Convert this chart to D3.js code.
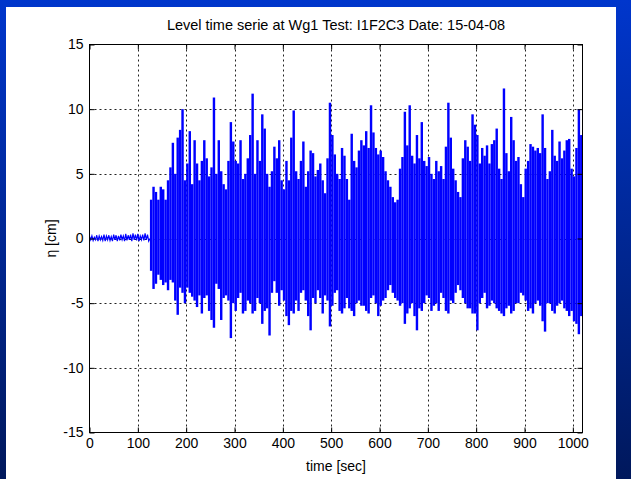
<!DOCTYPE html>
<html>
<head lang="en">
    <meta charset="UTF-8">
    <script src="https://cdn.jsdelivr.net/npm/d3@7/dist/d3.min.js" charset="utf-8"></script>
    <style>
        body { margin: 0; }
        text { font-family: "Liberation Sans", Arial, sans-serif; fill: #000; }
    </style>
    <title></title>
</head>
<body>
<svg id="chart" width="631" height="479"></svg>

<script>
    // tick labels
    var xTicks = [0, 100, 200, 300, 400, 500, 600, 700, 800, 900, 1000];
    var yTicks = [-15, -10, -5, 0, 5, 10, 15];

    // sampling grid (sec)
    var step = 5;
    var quietStart = 0;
    var burstStart = 125;
    var tEnd = 1020;

    // calm water before the waves arrive (0 - 120 s), crest / trough per 5 s
    var quietHi = [0.15, 0.2, 0.1, 0.25, 0.2, 0.15, 0.3, 0.2, 0.25, 0.15, 0.3, 0.25, 0.2,
                   0.3, 0.2, 0.35, 0.25, 0.3, 0.4, 0.3, 0.35, 0.2, 0.3, 0.4, 0.3];
    var quietLo = [-0.1, -0.15, -0.1, -0.2, -0.1, -0.15, -0.2, -0.1, -0.15, -0.2, -0.1, -0.2, -0.15,
                   -0.1, -0.2, -0.15, -0.1, -0.2, -0.1, -0.15, -0.2, -0.1, -0.15, -0.1, -0.2];

    // irregular waves (125 - 1020 s), highest crest / lowest trough per 5 s
    var burstHi = [
        3.0, 4.0, 3.6, 3.0, 4.0, 3.8, 3.0, 4.5, 5.5, 7.4,
        5.0, 7.8, 8.4, 10.0, 4.5, 5.8, 8.3, 4.2, 7.6, 5.8,
        4.5, 6.0, 7.6, 6.2, 4.8, 5.5, 10.9, 5.0, 7.6, 5.2,
        4.2, 3.8, 6.0, 9.0, 7.5, 6.0, 5.8, 7.6, 4.6, 5.0,
        6.2, 8.0,
        11.2, 5.0, 7.6, 6.0, 9.6, 8.5, 5.0, 4.0, 5.2, 7.1,
        6.2, 7.6, 4.5, 3.8, 6.0, 4.5, 7.8, 9.9, 5.2, 4.6,
        6.0, 7.5, 4.0, 5.2, 6.8, 6.6, 4.8, 5.3, 5.8, 4.5,
        3.5, 6.2, 10.5, 8.0, 6.5, 5.0, 4.6, 7.0, 6.4, 4.6,
        3.0, 8.1, 6.0, 5.5, 6.8, 7.6,
        7.2, 8.3, 7.0, 10.3, 8.2, 7.0, 6.5, 6.8, 6.3, 5.2,
        4.5, 4.0, 3.2, 2.8, 3.0, 5.4, 6.3, 9.8, 7.2, 10.3,
        6.4, 5.8, 8.0, 6.2, 9.0, 6.0, 5.6, 6.3, 5.0, 4.6,
        6.0, 5.2, 5.6, 4.6, 7.1, 10.5, 7.8, 5.4, 4.5, 3.6,
        3.2, 6.2, 7.6, 7.1, 6.0, 9.6,
        8.8, 8.0, 5.8, 7.0, 6.4, 7.2, 5.8, 7.3, 7.6, 8.5,
        5.4, 4.6, 11.6, 6.6, 5.2, 9.4, 7.6, 6.0, 6.3, 4.2,
        3.2, 5.4, 6.0, 7.3, 7.1, 6.8, 7.0, 6.6, 9.6, 7.0,
        4.6, 5.2, 8.4, 6.4, 6.0, 7.5, 6.2, 6.8, 7.6, 7.7,
        5.4, 4.8, 7.0, 10.0, 8.0
    ];
    var burstLo = [
        -2.5, -3.9, -3.5, -2.8, -3.2, -3.6, -3.4, -4.0, -3.2, -3.4,
        -4.8, -5.9, -3.8, -4.2, -5.0, -3.8, -4.2, -4.5, -4.8, -5.3,
        -4.4, -5.8, -4.6, -4.4, -5.6, -6.3, -6.9, -3.5, -3.9, -6.3,
        -4.6, -4.4, -4.8, -7.7, -5.0, -5.6, -4.6, -4.2, -5.8, -5.6,
        -4.8, -5.0,
        -5.8, -5.6, -4.6, -5.0, -6.6, -5.6, -5.4, -7.5, -4.2, -3.3,
        -4.2, -5.2, -4.0, -4.8, -6.0, -6.7, -5.6, -5.8, -4.8, -5.6,
        -4.2, -4.0, -4.8, -6.0, -7.1, -4.6, -5.0, -4.0, -4.6, -5.8,
        -4.4, -4.8, -6.8, -5.2, -4.2, -4.0, -5.6, -5.8, -5.4, -4.6,
        -5.4, -5.6, -6.0, -5.0, -4.8, -5.2,
        -5.2, -5.6, -5.8, -4.6, -4.4, -5.0, -6.0, -5.2, -4.8, -4.6,
        -4.0, -3.6, -4.2, -4.6, -4.8, -5.2, -5.0, -6.6, -5.8, -5.4,
        -5.0, -6.0, -7.1, -5.4, -5.6, -5.0, -4.4, -4.6, -5.6, -5.2,
        -5.0, -5.6, -4.2, -4.6, -5.6, -5.8, -4.8, -5.0, -4.2, -3.6,
        -4.0, -4.6, -5.0, -5.4, -5.4, -5.8,
        -5.8, -7.1, -5.0, -4.6, -4.2, -5.4, -5.2, -4.8, -5.0, -5.4,
        -5.6, -5.8, -6.0, -5.4, -5.2, -5.8, -5.6, -5.0, -5.0, -4.2,
        -4.4, -4.8, -5.6, -5.4, -5.8, -5.0, -4.8, -5.2, -6.4, -7.2,
        -5.0, -5.0, -5.6, -5.8, -5.2, -5.0, -4.8, -5.4, -5.6, -6.0,
        -5.6, -6.4, -6.6, -7.4, -6.0
    ];

    var svg = d3.select("#chart");
    var W = 631, H = 479;
    var plot = {left: 89.5, right: 582.5, top: 44.5, bottom: 432.5};
    var font = "'Liberation Sans', Arial, sans-serif";
    var blue = "#0000ff";

    // blue slide background + white figure
    var defs = svg.append("defs");
    var grad = defs.append("linearGradient").attr("id", "bg")
            .attr("x1", 0).attr("y1", 0).attr("x2", 0).attr("y2", 1);
    grad.append("stop").attr("offset", "0%").attr("stop-color", "#0036cc");
    grad.append("stop").attr("offset", "100%").attr("stop-color", "#00185c");
    svg.append("rect").attr("width", W).attr("height", H).attr("fill", "url(#bg)");
    svg.append("rect").attr("x", 6).attr("y", 7).attr("width", 610).attr("height", H - 7).attr("fill", "#fff");

    var x = d3.scaleLinear().domain([0, tEnd]).range([plot.left, plot.right]);
    var y = d3.scaleLinear().domain([-15, 15]).range([plot.bottom, plot.top]);

    // grid
    var grid = svg.append("g").attr("stroke", "#222").attr("stroke-dasharray", "2,3").attr("stroke-width", 1);
    grid.selectAll(".gx").data(xTicks.slice(1)).enter().append("line")
            .attr("x1", function(d) { return Math.round(x(d)) + 0.5; })
            .attr("x2", function(d) { return Math.round(x(d)) + 0.5; })
            .attr("y1", plot.top).attr("y2", plot.bottom);
    grid.selectAll(".gy").data(yTicks.slice(1, -1)).enter().append("line")
            .attr("y1", function(d) { return Math.round(y(d)) + 0.5; })
            .attr("y2", function(d) { return Math.round(y(d)) + 0.5; })
            .attr("x1", plot.left).attr("x2", plot.right);

    // calm part: crest / trough zigzag
    var pts = [];
    quietHi.forEach(function(h, i) {
        var t = quietStart + i * step;
        pts.push([t, h]);
        pts.push([t + step / 2, quietLo[i]]);
    });
    pts.push([burstStart, 0]);

    var line = d3.line()
            .x(function(d) { return x(d[0]); })
            .y(function(d) { return y(d[1]); });

    svg.append("path").datum(pts)
            .attr("d", line)
            .attr("fill", "none")
            .attr("stroke", blue)
            .attr("stroke-width", 1.2);

    // wave part: each 5 s window filled from trough to crest
    var bins = burstHi.map(function(h, i) {
        return {t: burstStart + i * step, hi: h, lo: burstLo[i]};
    });
    svg.append("g").selectAll("rect").data(bins).enter().append("rect")
            .attr("x", function(d) { return x(d.t); })
            .attr("width", function(d) { return x(Math.min(d.t + step, tEnd)) - x(d.t); })
            .attr("y", function(d) { return y(d.hi); })
            .attr("height", function(d) { return y(d.lo) - y(d.hi); })
            .attr("fill", blue);

    // axes with inward ticks on all four sides
    function styleAxis(g) {
        g.select(".domain").remove();
        g.selectAll("text").style("font-size", "14px").style("font-family", font);
        g.selectAll("line").attr("stroke", "#000");
    }
    var fmt = function(d) { return String(d); };
    svg.append("g").attr("transform", "translate(0," + plot.bottom + ")")
            .call(d3.axisBottom(x).tickValues(xTicks).tickFormat(fmt).tickSizeInner(-5).tickSizeOuter(0).tickPadding(6))
            .call(styleAxis);
    svg.append("g").attr("transform", "translate(" + plot.left + ",0)")
            .call(d3.axisLeft(y).tickValues(yTicks).tickFormat(fmt).tickSizeInner(-5).tickSizeOuter(0).tickPadding(6))
            .call(styleAxis);
    svg.append("g").attr("transform", "translate(0," + plot.top + ")")
            .call(d3.axisTop(x).tickValues(xTicks).tickFormat("").tickSizeInner(-5).tickSizeOuter(0))
            .call(styleAxis);
    svg.append("g").attr("transform", "translate(" + plot.right + ",0)")
            .call(d3.axisRight(y).tickValues(yTicks).tickFormat("").tickSizeInner(-5).tickSizeOuter(0))
            .call(styleAxis);

    // box
    svg.append("rect")
            .attr("x", plot.left).attr("y", plot.top)
            .attr("width", plot.right - plot.left).attr("height", plot.bottom - plot.top)
            .attr("fill", "none").attr("stroke", "#000").attr("stroke-width", 1);

    // labels
    svg.append("text").attr("x", (plot.left + plot.right) / 2).attr("y", 30)
            .attr("text-anchor", "middle").style("font-size", "14.5px")
            .text("Level time serie at Wg1 Test: I1F2C3 Date: 15-04-08");
    svg.append("text").attr("x", (plot.left + plot.right) / 2).attr("y", 471)
            .attr("text-anchor", "middle").style("font-size", "14px")
            .text("time [sec]");
    svg.append("text").attr("transform", "translate(56," + y(0) + ") rotate(-90)")
            .attr("text-anchor", "middle").style("font-size", "14px")
            .text("η [cm]");
</script>
</body>
</html>
